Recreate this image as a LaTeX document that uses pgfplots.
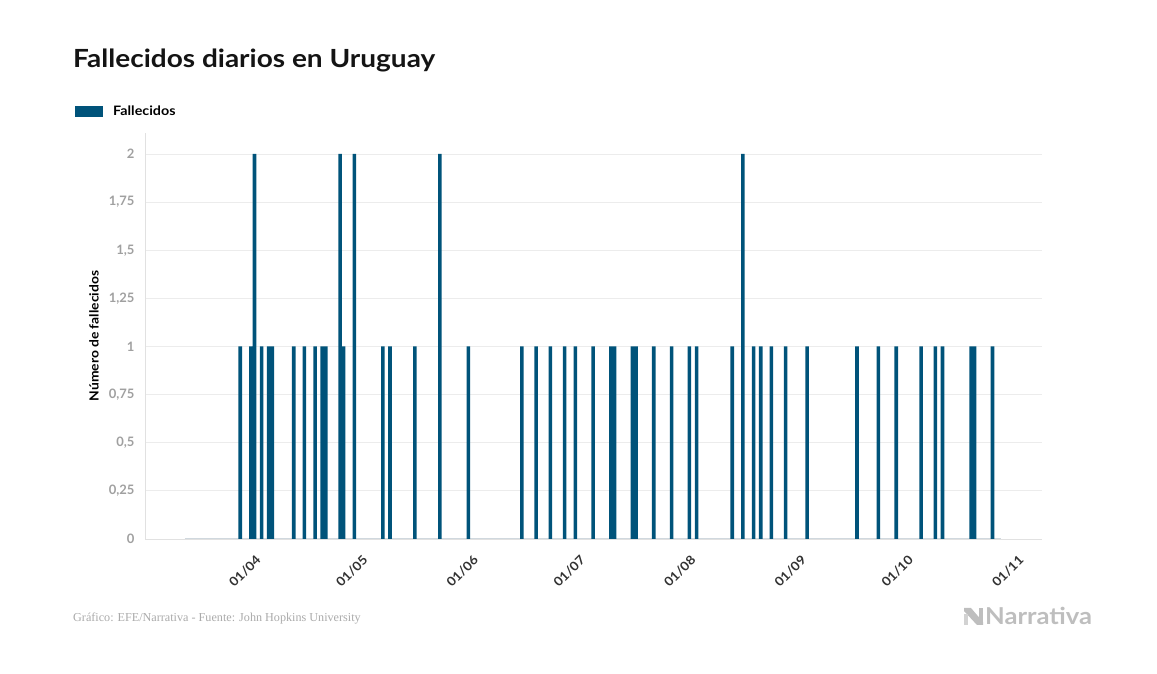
\documentclass[border=0pt]{standalone}
\usepackage{fontspec}
\setmainfont{Lato}
\newfontfamily\ancha{Lato}[FakeStretch=1.1]
\newfontfamily\titulo{Lato}[FakeStretch=1.12]
\newfontfamily\pie{Liberation Serif}
\usepackage{pgfplots}
\usepackage{pgfplotstable}
\pgfplotsset{compat=1.18}

\definecolor{barblue}{RGB}{0,83,122}
\definecolor{gridgray}{RGB}{236,236,236}
\definecolor{axisgray}{RGB}{225,225,225}
\definecolor{zerogray}{RGB}{208,216,222}
\definecolor{ytickgray}{RGB}{160,160,160}
\definecolor{xtickdark}{RGB}{50,50,50}
\definecolor{footgray}{RGB}{170,170,170}
\definecolor{logogray}{RGB}{190,190,190}

% dia 0 = 13/03/2020
\pgfplotstableread{
dia fallecidos
15  1
18  1
19  2
21  1
23  1
24  1
30  1
33  1
36  1
38  1
39  1
43  2
44  1
47  2
55  1
57  1
64  1
71  2
79  1
94  1
98  1
102 1
106 1
109 1
114 1
119 1
120 1
125 1
126 1
131 1
136 1
141 1
143 1
153 1
156 2
159 1
161 1
164 1
168 1
174 1
188 1
194 1
199 1
206 1
210 1
212 1
220 1
221 1
226 1
}\datos

\begin{document}
\begin{tikzpicture}
\path[use as bounding box] (0,0) rectangle (1157pt,674pt);

\node[anchor=base west, inner sep=0pt, font=\titulo\bfseries\fontsize{25}{25}\selectfont, text=black!92]
  at (73pt,606.7pt) {Fallecidos diarios en Uruguay};

\begin{axis}[
    at={(145pt,135pt)}, anchor=south west,
    scale only axis, width=897pt, height=406pt,
    xmin=-11.72, xmax=239.9,
    ymin=0, ymax=2.109,
    ybar, bar width=3.6pt,
    axis lines=left,
    axis line style={draw=axisgray, line width=0.8pt, -},
    major tick length=0pt,
    ymajorgrids,
    grid style={gridgray, line width=0.8pt},
    ytick={0,0.25,0.5,0.75,1,1.25,1.5,1.75,2},
    xtick={19,49,80,110,141,172,202,233},
    xticklabels={01/04,01/05,01/06,01/07,01/08,01/09,01/10,01/11},
    /pgf/number format/use comma,
    /pgf/number format/assume math mode=true,
    yticklabel style={font=\bfseries\fontsize{13}{13}\selectfont, text=ytickgray, xshift=-7pt},
    xticklabel style={font=\ancha\bfseries\fontsize{12.5}{12.5}\selectfont, text=xtickdark,
        inner sep=0pt, xshift=0.5pt, yshift=-15pt, rotate=45, anchor=north east},
    ylabel={Número de fallecidos},
    every axis y label/.style={at={(axis description cs:-0.0569,0.5)},
        rotate=90, anchor=center, font=\ancha\bfseries\fontsize{12.6}{12.6}\selectfont},
    legend style={at={(axis description cs:-0.078,1.052)}, anchor=west,
        draw=none, fill=none, inner sep=0pt,
        font=\ancha\bfseries\fontsize{13}{13}\selectfont},
    legend image code/.code={\fill[barblue] (0pt,-5.5pt) rectangle (28pt,5.5pt); \path (36pt,0pt);},
]
\draw[zerogray, line width=1pt] (axis cs:-0.5,0) -- (axis cs:228.5,0);
\addplot[fill=barblue, draw=none] table[x=dia, y=fallecidos] {\datos};
\addlegendentry{Fallecidos}
\end{axis}

\node[anchor=base west, inner sep=0pt, font=\pie\fontsize{12.15}{12.15}\selectfont, text=footgray]
  at (73pt,52pt) {Gráfico: EFE/Narrativa - Fuente: John Hopkins University};

% logo
\fill[logogray] (964pt,66pt) -- (971pt,66pt) -- (983pt,52pt) -- (983pt,49pt)
  -- (977pt,49pt) -- (964pt,63pt) -- cycle;
\fill[logogray] (979pt,66pt) rectangle (983pt,49pt);
\fill[logogray!70] (964pt,60pt) rectangle (968pt,49pt);
\node[anchor=base west, font=\ancha\bfseries\fontsize{23.3}{23.3}\selectfont, text=logogray, inner sep=0pt]
  at (985pt,49pt) {Narrativa};
\end{tikzpicture}
\end{document}
